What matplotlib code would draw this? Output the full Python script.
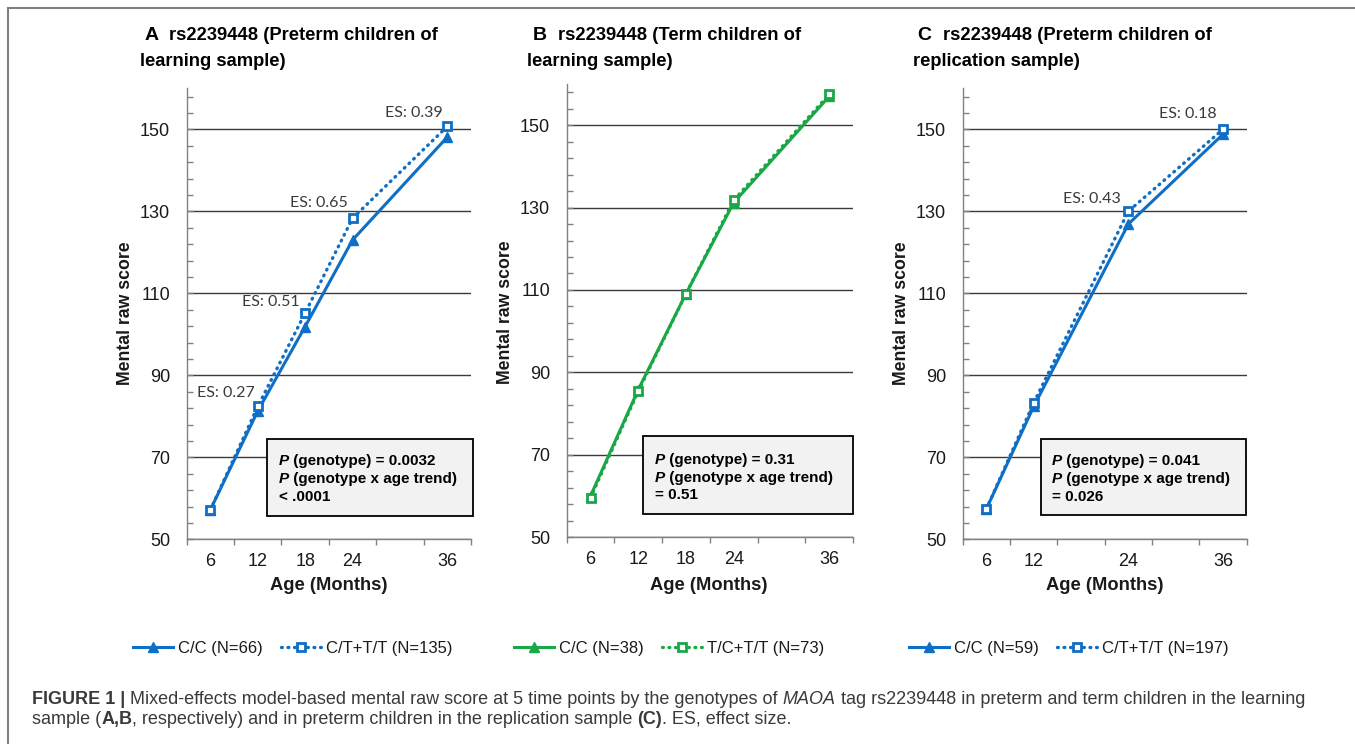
import matplotlib
matplotlib.use('Agg')
import matplotlib.pyplot as plt
from matplotlib.lines import Line2D
from matplotlib.patches import Rectangle
from matplotlib.text import Text

# ---------------- data ----------------
ages_A = [6, 12, 18, 24, 36]
A_cc = [57.2, 81.3, 101.9, 123.0, 148.1]
A_ct = [57.2, 82.4, 105.2, 128.3, 150.7]
A_es_labels = ["ES: 0.27", "ES: 0.51", "ES: 0.65", "ES: 0.39"]
A_es_pos = [(7.9, 85.8), (13.7, 107.8), (19.7, 132.1), (31.8, 154.0)]

ages_B = [6, 12, 18, 24, 36]
B_cc = [60.0, 85.8, 109.1, 131.2, 157.0]
B_tc = [59.5, 85.4, 109.1, 131.8, 157.5]

ages_C = [6, 12, 24, 36]
C_cc = [57.4, 82.4, 126.9, 148.8]
C_ct = [57.4, 83.3, 130.0, 150.0]
C_es_labels = ["ES: 0.43", "ES: 0.18"]
C_es_pos = [(19.4, 133.1), (31.5, 153.7)]

xlabels_A = [6, 12, 18, 24, 36]
xlabels_B = [6, 12, 18, 24, 36]
xlabels_C = [6, 12, 24, 36]
yticks_major = [50, 70, 90, 110, 130, 150]

legend_A = ["C/C (N=66)", "C/T+T/T (N=135)"]
legend_B = ["C/C (N=38)", "T/C+T/T (N=73)"]
legend_C = ["C/C (N=59)", "C/T+T/T (N=197)"]

p_A = ["(genotype) = 0.0032", "(genotype x age trend)", "< .0001"]
p_B = ["(genotype) = 0.31", "(genotype x age trend)", "= 0.51"]
p_C = ["(genotype) = 0.041", "(genotype x age trend)", "= 0.026"]

titles = [("A", "rs2239448 (Preterm children of", "learning sample)"),
          ("B", "rs2239448 (Term children of", "learning sample)"),
          ("C", "rs2239448 (Preterm children of", "replication sample)")]

# ---------------- setup ----------------
W, H = 1355, 744
plt.rcParams['font.family'] = ['Liberation Sans', 'DejaVu Sans']
fig = plt.figure(figsize=(W / 100, H / 100), dpi=100)
renderer = fig.canvas.get_renderer()

BLUE = '#0f6ec5'
GREEN = '#1aa748'
DARK = '#1a1a1a'
DOT = (0, (0.25, 1.7))


def fx(px):
    return px / W


def fy(py):
    return 1 - py / H


def text_w(s, **props):
    t1 = Text(0, 0, s + 'I', **props)
    t1.set_figure(fig)
    t2 = Text(0, 0, 'I', **props)
    t2.set_figure(fig)
    return (t1.get_window_extent(renderer).width -
            t2.get_window_extent(renderer).width)


def rich(x_px, y_base_px, pieces, size, color=DARK, family=None):
    x = x_px
    for s, props in pieces:
        kw = dict(fontsize=size, color=color)
        if family:
            kw['family'] = family
        kw.update(props)
        fig.text(fx(x), fy(y_base_px), s, ha='left', va='baseline', **kw)
        x += text_w(s, **kw)


def make_axes(left, right, top, bottom):
    ax = fig.add_axes([fx(left), fy(bottom), (right - left) / W, (bottom - top) / H])
    ax.set_xlim(3, 39)
    ax.set_ylim(50, 160)
    for sp in ['top', 'right']:
        ax.spines[sp].set_visible(False)
    for sp in ['left', 'bottom']:
        ax.spines[sp].set_color('#808080')
        ax.spines[sp].set_linewidth(1.0)
    return ax


def style_axes(ax, xlabels):
    ax.set_xticks([3, 9, 15, 21, 27, 33, 39])
    ax.set_xticklabels([])
    ax.tick_params(axis='x', which='major', direction='out', length=4,
                   width=1, color='#808080')
    ax.set_xticks(xlabels, minor=True)
    ax.set_xticklabels([str(v) for v in xlabels], minor=True)
    ax.tick_params(axis='x', which='minor', length=0, pad=10, labelsize=13,
                   labelcolor=DARK)
    ax.set_yticks(yticks_major)
    ax.set_yticklabels([str(v) for v in yticks_major])
    ax.set_yticks(list(range(50, 160, 4)), minor=True)
    ax.tick_params(axis='y', which='both', direction='in', length=4, width=1,
                   color='#808080')
    ax.tick_params(axis='y', which='major', pad=12, labelsize=13, labelcolor=DARK)
    ax.grid(axis='y', which='major', color='#3a3a3a', lw=1.0)
    ax.set_axisbelow(True)


panels = [
    dict(box=(186.7, 471, 88.3, 539.3), ages=ages_A, s1=A_cc, s2=A_ct, color=BLUE,
         xl=xlabels_A, leg=legend_A, p=p_A, es=(A_es_labels, A_es_pos),
         pbox=(266.7, 472.7, 439, 515.7), ptext=(279, [460, 478, 496]),
         ylab=(125, 313), xlab=(328.7, 585), title=(145, 140, 35, 61.5),
         legx=133),
    dict(box=(566.7, 853, 84.1, 537), ages=ages_B, s1=B_cc, s2=B_tc, color=GREEN,
         xl=xlabels_B, leg=legend_B, p=p_B, es=None,
         pbox=(642.7, 853.3, 436, 514.3), ptext=(655, [459, 477, 494]),
         ylab=(505, 312), xlab=(709, 585), title=(533, 527, 35, 61.5),
         legx=514),
    dict(box=(962.7, 1246.7, 88.3, 539.3), ages=ages_C, s1=C_cc, s2=C_ct, color=BLUE,
         xl=xlabels_C, leg=legend_C, p=p_C, es=(C_es_labels, C_es_pos),
         pbox=(1041, 1246, 439, 515.3), ptext=(1052, [460, 478, 496]),
         ylab=(901, 313), xlab=(1105, 585), title=(918, 913, 35, 61.5),
         legx=909),
]

for pn in panels:
    l, r, t, b = pn['box']
    ax = make_axes(l, r, t, b)
    style_axes(ax, pn['xl'])
    c = pn['color']
    h1, = ax.plot(pn['ages'], pn['s1'], '-', color=c, lw=2.2, marker='^', ms=6.5,
                  mec=c, mfc=c, zorder=4, clip_on=False)
    h2, = ax.plot(pn['ages'], pn['s2'], color=c, lw=2.4, ls=DOT,
                  dash_capstyle='round', marker='s', ms=5.5, mfc='white', mec=c,
                  mew=2, zorder=5, clip_on=False)
    if pn['es']:
        for lab, (xv, yv) in zip(*pn['es']):
            ax.text(xv, yv, lab, ha='center', va='center', fontsize=11.5,
                    color='#3a3a3a', family=['Lato', 'DejaVu Sans'])

    # axis labels
    fig.text(fx(pn['ylab'][0]), fy(pn['ylab'][1]), 'Mental raw score', rotation=90,
             ha='center', va='center', fontsize=12.7, fontweight='bold', color=DARK)
    fig.text(fx(pn['xlab'][0]), fy(pn['xlab'][1]), 'Age (Months)', ha='center',
             va='center', fontsize=13.2, fontweight='bold', color=DARK)

    # titles
    letter, l1, l2 = titles[panels.index(pn)]
    tx1, tx2, ty1, ty2 = pn['title']
    rich(tx1, ty1 + 5, [(letter + '  ', dict(fontweight='bold', fontsize=14)),
                        (l1, dict(fontweight='bold'))], 13.2, color='black')
    fig.text(fx(tx2), fy(ty2 + 5), l2, ha='left', va='baseline', fontsize=13.2,
             fontweight='bold', color='black')

    # p-value box
    bx0, bx1, by0, by1 = pn['pbox']
    fig.add_artist(Rectangle((fx(bx0), fy(by1)), (bx1 - bx0) / W, (by1 - by0) / H,
                             transform=fig.transFigure, fc='#f2f2f2', ec='black',
                             lw=1.3, zorder=3))
    px, pys = pn['ptext']
    bi = dict(fontweight='bold', fontstyle='italic')
    bo = dict(fontweight='bold')
    rich(px, pys[0] + 5, [('P', bi), (' ' + pn['p'][0], bo)], 11, color='black')
    rich(px, pys[1] + 5, [('P', bi), (' ' + pn['p'][1], bo)], 11, color='black')
    rich(px, pys[2] + 5, [(pn['p'][2], bo)], 11, color='black')

    # legend
    fig.legend([h1, h2], pn['leg'], loc='center left',
               bbox_to_anchor=(fx(pn['legx']), fy(648)), ncol=2, frameon=False,
               borderpad=0, borderaxespad=0, handlelength=2.4, handletextpad=0.3,
               columnspacing=1.1, fontsize=12, labelcolor=DARK)

# caption
CAP = '#3a3a3a'
CAPSIZE = 13.0
rich(32, 704, [("FIGURE 1 | ", dict(fontweight='bold')),
               ("Mixed-effects model-based mental raw score at 5 time points by the genotypes of ", {}),
               ("MAOA", dict(fontstyle='italic')),
               (" tag rs2239448 in preterm and term children in the learning", {})],
     CAPSIZE, color=CAP)
rich(32, 724, [("sample (", {}), ("A,B", dict(fontweight='bold')),
               (", respectively) and in preterm children in the replication sample ", {}),
               ("(C)", dict(fontweight='bold')), (". ES, effect size.", {})],
     CAPSIZE, color=CAP)

# figure frame (left and top)
fig.add_artist(Line2D([fx(8), fx(8)], [fy(8), 0], transform=fig.transFigure,
                      color='#808080', lw=1.5))
fig.add_artist(Line2D([fx(8), 1], [fy(8), fy(8)], transform=fig.transFigure,
                      color='#808080', lw=1.5))

fig.savefig('out.png', dpi=100)
